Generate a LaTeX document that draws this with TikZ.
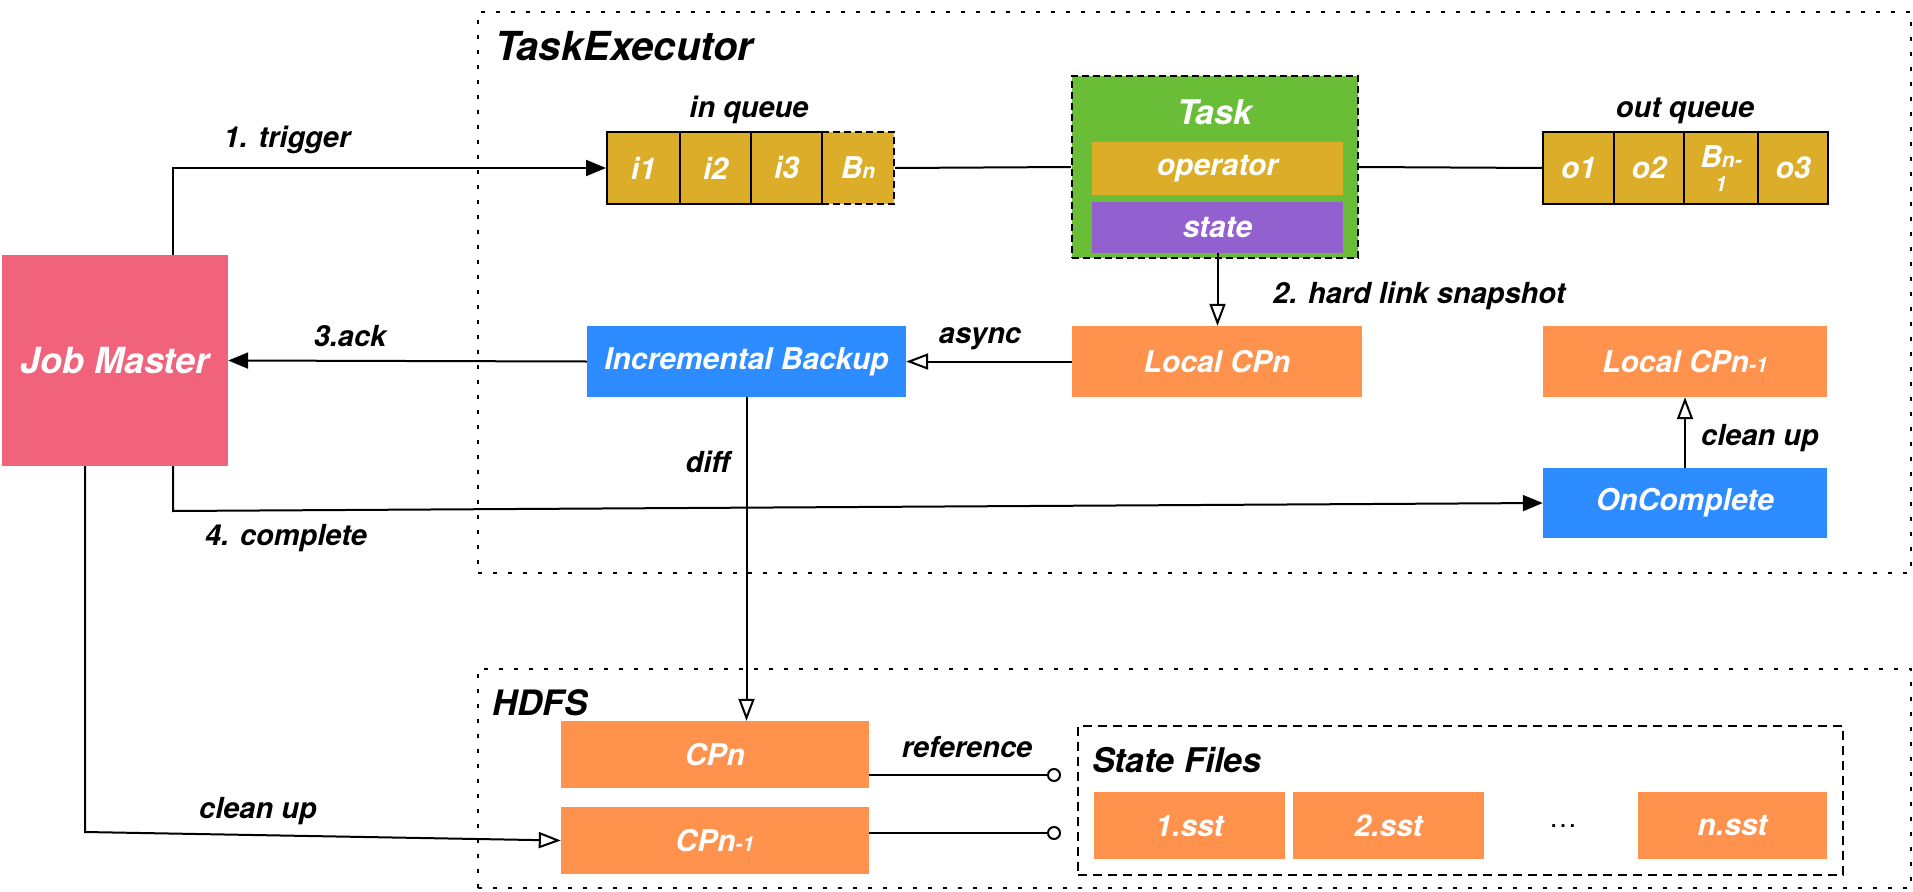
\documentclass[tikz,border=0pt]{standalone}
\usepackage{fontspec}
\setmainfont{TeX Gyre Heros}
\usetikzlibrary{arrows.meta}

\definecolor{qgold}{RGB}{219,173,41}
\definecolor{taskgreen}{RGB}{106,190,55}
\definecolor{statepurple}{RGB}{146,96,207}
\definecolor{cporange}{RGB}{255,146,77}
\definecolor{actblue}{RGB}{45,140,255}
\definecolor{masterpink}{RGB}{240,99,122}

\newcommand\bxfont{\fontsize{30}{32}\selectfont\bfseries\itshape}
\newcommand\lbfont{\fontsize{29}{31}\selectfont\bfseries\itshape}
\newcommand\ttlfont{\fontsize{35}{37}\selectfont\bfseries\itshape}
\newcommand\sm[1]{{\fontsize{21}{23}\selectfont #1}}

\begin{document}
\begin{tikzpicture}[x=1pt,y=-1pt,
  % rectangle given by its two corners (x1,y1) (x2,y2)
  rect/.style n args={4}{anchor=center,
     minimum width={(#3-#1)*1pt}, minimum height={(#4-#2)*1pt},
     at={({(#1+#3)/2},{(#2+#4)/2})}},
  frame/.style={draw, line width=2pt, dash pattern=on 4pt off 11pt, inner sep=0pt},
  dframe/.style={draw, line width=2pt, dash pattern=on 9pt off 6pt, inner sep=0pt},
  cell/.style={draw, fill=qgold, line width=2pt, inner sep=0pt, text=white, font=\bxfont},
  box/.style={inner sep=0pt, text=white, font=\bxfont},
  lbl/.style={inner sep=0pt, font=\lbfont},
  ttl/.style={inner sep=0pt, font=\ttlfont},
  conn/.style={line width=2pt},
  tipF/.style={-{Triangle[length=20pt,width=16pt]}},
  tipO/.style={-{Triangle[open,length=22pt,width=16pt,line width=2pt]}},
  tipC/.style={-{Circle[open,length=14pt,line width=2pt]}}]

\useasboundingbox (0,0) rectangle (1913,891);

% group frames
\node[frame, rect={478}{12}{1911}{573}] (te) {};
\node[ttl, font=\fontsize{40}{42}\selectfont\bfseries\itshape, anchor=base west] (tetitle) at (495,61) {TaskExecutor};
\node[frame, rect={478}{669}{1911}{888}] (hdfs) {};
\node[ttl, anchor=base west] (hdfstitle) at (492,715) {HDFS};

% input queue
\node[lbl, anchor=base] (inq) at (749,117) {in queue};
\node[cell, dash pattern=on 7pt off 4pt, rect={822}{132}{894}{204}] (q4) {B\sm{n}};
\node[cell, rect={607}{132}{680}{204}] (q1) {i1};
\node[cell, rect={680}{132}{751}{204}] (q2) {i2};
\node[cell, rect={751}{132}{822}{204}] (q3) {i3};

% task
\node[draw, fill=taskgreen, line width=2pt, dash pattern=on 7pt off 4pt, inner sep=0pt,
      rect={1072}{76}{1358}{258}] (task) {};
\node[box, font=\fontsize{34}{36}\selectfont\bfseries\itshape, anchor=base] (tasktitle) at (1215,124) {Task};
\node[box, fill=qgold, rect={1092}{142}{1343}{195}] (op) {operator};
\node[box, fill=statepurple, rect={1092}{202}{1343}{253}] (st) {state};

% output queue
\node[lbl, anchor=base] (outq) at (1685,117) {out queue};
\node[cell, rect={1543}{132}{1614}{204}] (o1) {o1};
\node[cell, rect={1614}{132}{1684}{204}] (o2) {o2};
\node[cell, rect={1684}{132}{1758}{204}] (o3) {};
\node[box, align=center] (o3t) at (1721,169) {B\sm{n-}\\[-8pt]\sm{1}};
\node[cell, rect={1758}{132}{1828}{204}] (o4) {o3};

% main actors
\node[box, fill=masterpink, font=\fontsize{36}{38}\selectfont\bfseries\itshape,
      rect={2}{255}{228}{466}] (jm) {Job Master};
\node[box, fill=actblue, rect={587}{326}{906}{397}] (ib) {Incremental Backup};
\node[box, fill=cporange, rect={1072}{326}{1362}{397}] (lcp) {Local CPn};
\node[box, fill=cporange, rect={1543}{326}{1827}{397}] (lcp1) {Local CPn\sm{-1}};
\node[box, fill=actblue, rect={1543}{468}{1827}{538}] (oc) {OnComplete};

% HDFS content
\node[box, fill=cporange, rect={561}{721}{869}{788}] (cpn) {CPn};
\node[box, fill=cporange, rect={561}{807}{869}{874}] (cpn1) {CPn\sm{-1}};
\node[dframe, rect={1078}{726}{1843}{875}] (sf) {};
\node[ttl, font=\fontsize{34}{36}\selectfont\bfseries\itshape, anchor=base west] (sftitle) at (1092,772) {State Files};
\node[box, fill=cporange, rect={1094}{792}{1285}{859}] (s1) {1.sst};
\node[box, fill=cporange, rect={1293}{792}{1484}{859}] (s2) {2.sst};
\node[inner sep=0pt, font=\fontsize{28}{30}\selectfont] (sdots) at (1563,826) {\ldots};
\node[box, fill=cporange, rect={1638}{792}{1827}{859}] (sn) {n.sst};

% queue links
\draw[conn] (q4.east) -- (task.west);
\draw[conn] (task.east) -- (o1.west);

% control flow
\draw[conn, tipF] ([xshift=-55pt]jm.north east) |- (q1.west);
\node[lbl, anchor=base] (ltrig) at (287,147) {1. trigger};

\draw[conn, tipO] (st.south) -- (st.south |- lcp.north);
\node[lbl, anchor=base west] (lsnap) at (1273,303) {2. hard link snapshot};

\draw[conn, tipO] (lcp.west) -- (ib.east);
\node[lbl, anchor=base] (lasync) at (980,343) {async};

\draw[conn, tipF] (ib.west) -- (jm.east);
\node[lbl, anchor=base] (lack) at (350,346) {3.ack};

\coordinate (cbend) at (173,511);
\draw[conn, tipF] ([xshift=-55pt]jm.south east) -- (cbend) -- (oc.west);
\node[lbl, anchor=base] (lcomp) at (286,545) {4. complete};

\draw[conn, tipO] (oc.north) -- (lcp1.south);
\node[lbl, anchor=base west] (lclean) at (1701,445) {clean up};

\draw[conn, tipO] (ib.south) -- (ib.south |- cpn.north);
\node[lbl, anchor=base east] (ldiff) at (730,472) {diff};

\coordinate (hbend) at (85,832);
\draw[conn, tipO] (jm.south -| hbend) -- (hbend) -- (cpn1.west);
\node[lbl, anchor=base] (lclean2) at (258,818) {clean up};

% references to state files
\coordinate (r1) at (1061,775);
\coordinate (r2) at (1061,833);
\draw[conn, tipC] (cpn.east |- r1) -- (r1);
\draw[conn, tipC] (cpn1.east |- r2) -- (r2);
\node[lbl, anchor=base] (lref) at (967,757) {reference};

\end{tikzpicture}
\end{document}
